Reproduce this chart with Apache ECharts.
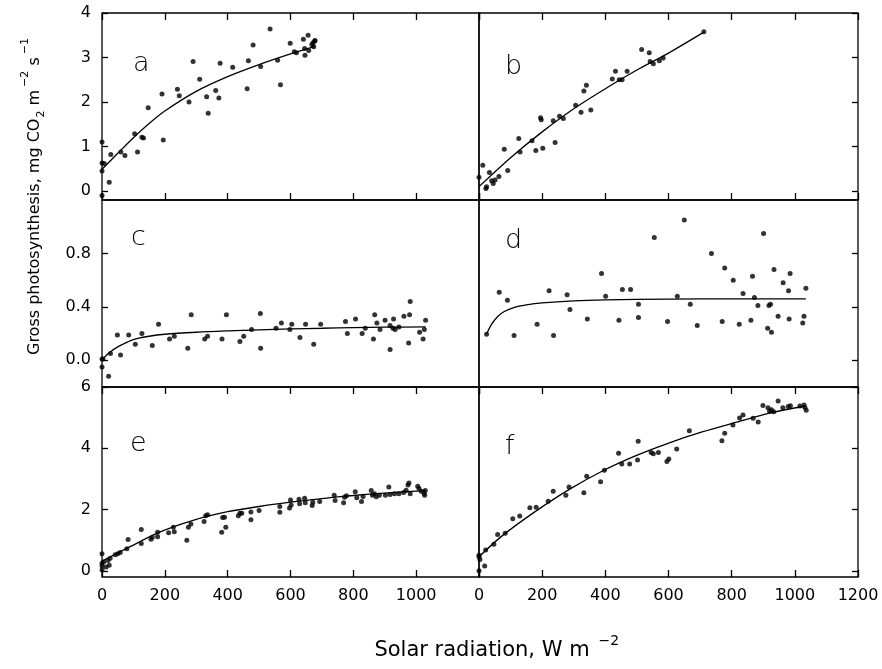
<!DOCTYPE html>
<html><head><meta charset="utf-8">
<script src="https://cdn.jsdelivr.net/npm/echarts@6/dist/echarts.min.js"></script>
<style>html,body{margin:0;padding:0;background:#fff}#c{width:882px;height:669px}</style>
</head><body><div id="c"></div>
<script>
// ---- data ----
const panelLetters = ['a','b','c','d','e','f'];
const xTickValues = [0,200,400,600,800,1000,1200];
const xLabelsLeft = [0,200,400,600,800,1000];
const xLabelsRight = [0,200,400,600,800,1000,1200];
const yTicksAB = [0,1,2,3,4];
const yTicksCD = [0,0.4,0.8];
const yTicksEF = [0,2,4,6];
const yRangeAB = [-0.2,4];
const yRangeCD = [-0.2,1.2];
const yRangeEF = [-0.2,6];

const ptsA = [[0,-0.1],[0,0.45],[0,0.63],[7,0.62],[0,1.1],[23,0.2],[28,0.82],[60,0.88],[73,0.8],[104,1.29],[113,0.88],[127,1.21],[132,1.19],[147,1.87],[191,2.18],[195,1.15],[240,2.29],[246,2.14],[277,2.0],[290,2.91],[311,2.51],[333,2.12],[338,1.75],[362,2.26],[372,2.09],[376,2.87],[416,2.78],[462,2.3],[466,2.93],[481,3.28],[505,2.8],[535,3.64],[559,2.94],[568,2.39],[599,3.32],[612,3.13],[619,3.11],[641,3.41],[645,3.2],[646,3.05],[656,3.5],[658,3.16],[668,3.29],[672,3.33],[674,3.24],[677,3.37],[678,3.38]];
const fitA = [[0,0.49],[50,0.85],[100,1.2],[150,1.52],[200,1.8],[300,2.24],[400,2.57],[500,2.84],[600,3.08],[678,3.25]];

const ptsB = [[0,0.31],[12,0.58],[22,0.06],[24,0.1],[33,0.42],[40,0.23],[45,0.17],[51,0.25],[63,0.33],[80,0.94],[91,0.46],[126,1.18],[130,0.88],[168,1.13],[180,0.91],[195,1.65],[197,1.6],[202,0.96],[235,1.58],[241,1.09],[255,1.68],[267,1.63],[306,1.93],[323,1.77],[332,2.25],[340,2.38],[354,1.82],[422,2.52],[432,2.69],[444,2.5],[453,2.5],[469,2.69],[515,3.18],[539,3.11],[542,2.91],[552,2.86],[571,2.93],[583,2.99],[712,3.58]];
const fitB = [[0,0.1],[100,0.75],[200,1.33],[300,1.85],[400,2.3],[500,2.72],[600,3.1],[712,3.57]];

const ptsC = [[0,0.01],[3,0.01],[0,-0.05],[21,-0.12],[27,0.05],[49,0.19],[59,0.04],[85,0.19],[106,0.12],[127,0.2],[160,0.11],[180,0.27],[215,0.16],[230,0.18],[273,0.09],[284,0.34],[327,0.16],[336,0.18],[382,0.16],[396,0.34],[439,0.14],[451,0.18],[476,0.23],[504,0.35],[505,0.09],[554,0.24],[571,0.28],[598,0.23],[604,0.27],[630,0.17],[648,0.27],[674,0.12],[696,0.27],[775,0.29],[781,0.2],[807,0.31],[828,0.2],[838,0.24],[864,0.16],[868,0.34],[875,0.28],[885,0.23],[901,0.3],[917,0.08],[917,0.26],[926,0.24],[928,0.31],[933,0.23],[945,0.25],[961,0.33],[976,0.13],[979,0.34],[981,0.44],[1011,0.21],[1022,0.16],[1026,0.23],[1030,0.3]];
const fitC = [[0,0.0],[20,0.05],[50,0.1],[100,0.155],[150,0.18],[200,0.195],[300,0.21],[400,0.22],[500,0.228],[600,0.235],[700,0.24],[800,0.245],[900,0.248],[1030,0.25]];

const ptsD = [[24,0.195],[64,0.51],[90,0.45],[111,0.185],[184,0.27],[222,0.52],[236,0.185],[279,0.49],[288,0.38],[343,0.31],[388,0.65],[401,0.48],[443,0.3],[454,0.53],[480,0.53],[505,0.42],[505,0.32],[555,0.92],[597,0.29],[628,0.48],[650,1.05],[669,0.42],[691,0.26],[736,0.8],[770,0.29],[778,0.69],[805,0.6],[824,0.27],[836,0.5],[861,0.3],[866,0.63],[872,0.47],[883,0.41],[901,0.95],[914,0.24],[918,0.41],[923,0.42],[926,0.21],[934,0.68],[947,0.33],[963,0.58],[980,0.52],[982,0.31],[985,0.65],[1025,0.28],[1029,0.33],[1035,0.54]];
const fitD = [[24,0.195],[40,0.27],[60,0.33],[80,0.365],[110,0.395],[150,0.415],[200,0.43],[300,0.445],[400,0.452],[600,0.458],[800,0.46],[1035,0.46]];

const ptsE = [[0,0.03],[0,0.25],[0,0.56],[0,0.16],[5,0.29],[13,0.13],[23,0.18],[19,0.34],[26,0.41],[42,0.53],[50,0.56],[58,0.6],[79,0.72],[83,1.02],[125,0.89],[125,1.35],[156,1.03],[160,1.1],[177,1.26],[177,1.11],[212,1.24],[227,1.42],[230,1.28],[270,1.0],[275,1.42],[283,1.53],[325,1.61],[330,1.8],[336,1.83],[381,1.26],[384,1.74],[394,1.42],[390,1.75],[434,1.8],[439,1.88],[445,1.88],[474,1.67],[474,1.92],[500,1.97],[566,1.91],[566,2.1],[597,2.05],[600,2.31],[602,2.15],[627,2.34],[629,2.19],[645,2.37],[647,2.22],[669,2.13],[671,2.24],[693,2.26],[739,2.47],[742,2.3],[769,2.22],[772,2.4],[778,2.45],[806,2.58],[811,2.39],[826,2.26],[831,2.43],[857,2.62],[861,2.47],[867,2.52],[873,2.42],[883,2.47],[902,2.47],[913,2.74],[917,2.49],[931,2.52],[945,2.52],[960,2.56],[968,2.63],[974,2.8],[977,2.87],[981,2.52],[1005,2.76],[1009,2.69],[1016,2.6],[1025,2.53],[1027,2.47],[1029,2.62]];
const fitE = [[0,0.32],[80,0.74],[185,1.27],[290,1.65],[400,1.93],[500,2.1],[600,2.24],[700,2.36],[800,2.46],[900,2.54],[1030,2.62]];

const ptsF = [[0,0.0],[0,0.46],[0,0.51],[3,0.37],[18,0.16],[21,0.68],[47,0.87],[59,1.19],[83,1.23],[107,1.7],[129,1.79],[161,2.06],[181,2.08],[219,2.27],[235,2.6],[275,2.47],[285,2.74],[332,2.55],[341,3.09],[385,2.91],[397,3.28],[442,3.84],[452,3.49],[477,3.49],[502,3.62],[504,4.23],[545,3.86],[552,3.82],[568,3.86],[595,3.57],[601,3.65],[626,3.98],[666,4.57],[769,4.25],[778,4.49],[804,4.76],[825,4.99],[836,5.09],[868,4.98],[884,4.86],[899,5.4],[915,5.32],[920,5.21],[926,5.26],[933,5.19],[947,5.54],[962,5.32],[979,5.36],[986,5.39],[1016,5.38],[1029,5.41],[1032,5.33],[1036,5.24]];
const fitF = [[0,0.46],[74,1.15],[180,1.95],[286,2.66],[391,3.26],[497,3.76],[603,4.18],[709,4.54],[815,4.85],[920,5.15],[1034,5.38]];

// ---- layout ----
const FONT = 'DejaVu Sans';
const pts = [ptsA, ptsB, ptsC, ptsD, ptsE, ptsF];
const fits = [fitA, fitB, fitC, fitD, fitE, fitF];
const yTicks = [yTicksAB, yTicksCD, yTicksEF];
const yRanges = [yRangeAB, yRangeCD, yRangeEF];
const rowTop = [13, 200, 387];
const rowH = [187, 187, 190];
const colLeft = [102, 479];
const colW = [377, 379];

const grids = [], xAxes = [], yAxes = [], series = [];
const tickStyle = {color: '#000', width: 1.3};
const labelStyle = {color: '#000', fontSize: 16, fontFamily: FONT};
for (let i = 0; i < 6; i++) {
  const row = Math.floor(i / 2), col = i % 2;
  grids.push({left: colLeft[col], top: rowTop[row], width: colW[col], height: rowH[row],
    show: true, borderColor: '#000', borderWidth: 1.3, backgroundColor: 'transparent'});
  xAxes.push({gridIndex: i, type: 'value', min: 0, max: 1200, position: 'bottom',
    axisLine: {show: false, onZero: false}, splitLine: {show: false},
    axisTick: {show: row !== 1, inside: true, length: 7, customValues: xTickValues, lineStyle: tickStyle},
    axisLabel: Object.assign({show: row === 2, margin: 11, formatter: v => String(v),
      customValues: col === 0 ? xLabelsLeft : xLabelsRight}, labelStyle)});
  const fmt = row === 1 ? (v => Number(v).toFixed(1)) : (v => String(Math.round(v)));
  yAxes.push({gridIndex: i, type: 'value', min: yRanges[row][0], max: yRanges[row][1],
    position: col === 0 ? 'left' : 'right',
    axisLine: {show: false, onZero: false}, splitLine: {show: false},
    axisTick: {show: true, inside: true, length: 6, customValues: yTicks[row], lineStyle: tickStyle},
    axisLabel: Object.assign({show: col === 0, margin: 11, customValues: yTicks[row], formatter: fmt,
      showMinLabel: true, showMaxLabel: true}, labelStyle)});
  series.push({type: 'scatter', xAxisIndex: i, yAxisIndex: i, data: pts[i], symbolSize: 5,
    itemStyle: {color: '#000'}, clip: false, silent: true});
  series.push({type: 'line', xAxisIndex: i, yAxisIndex: i, data: fits[i], showSymbol: false,
    smooth: 0.3, lineStyle: {color: '#000', width: 1.3}, silent: true});
}
// top inward ticks for rows a/b and e/f
[0, 1, 4, 5].forEach(i => {
  xAxes.push({gridIndex: i, type: 'value', min: 0, max: 1200, position: 'top',
    axisLine: {show: false, onZero: false}, splitLine: {show: false},
    axisTick: {show: true, inside: true, length: 7, customValues: xTickValues, lineStyle: tickStyle},
    axisLabel: {show: false}});
});

// ---- text helpers ----
const ctx = document.createElement('canvas').getContext('2d');
function tw(text, size) { ctx.font = size + 'px "' + FONT + '"'; return ctx.measureText(text).width; }
function txt(text, x, y, size, extra) {
  return Object.assign({type: 'text', x: x, y: y, silent: true,
    style: {text: text, fontSize: size, fontFamily: FONT, fill: '#000', align: 'left', verticalAlign: 'middle'}}, extra || {});
}

const graphics = [];
// panel letters
const letterPos = [[133, 64], [505, 67], [131, 238], [505, 241], [130, 444], [505, 447]];
panelLetters.forEach((l, i) => {
  const t = txt(l, letterPos[i][0], letterPos[i][1], 27);
  t.style.fontWeight = 200;
  graphics.push(t);
});

// x axis title
const xMain = 'Solar radiation, W m';
const xs = 21;
const xMainW = tw(xMain, xs);
const xLeft = 478 - xMainW / 2 + 4;
graphics.push(txt(xMain, xLeft, 651, xs));
graphics.push(txt('\u22122', xLeft + xMainW + 9, 641, 14));

// y axis title (rotated group)
const ys = 16, ss = 11;
const yParts = [];
let off = 0;
function addPart(text, size, dy, gapBefore) {
  off += gapBefore || 0;
  yParts.push(txt(text, off, dy, size));
  off += tw(text, size);
}
addPart('Gross photosynthesis, mg CO', ys, 0);
addPart('2', ss, 6, 1);
addPart(' m', ys, 0);
addPart('\u22122', ss, -10, 3);
addPart(' s', ys, 0);
addPart('\u22121', ss, -10, 3);
graphics.push({type: 'group', x: 35, y: 355, rotation: Math.PI / 2, children: yParts});

const chart = echarts.init(document.getElementById('c'), null, {renderer: 'canvas'});
chart.setOption({
  animation: false,
  backgroundColor: '#fff',
  grid: grids, xAxis: xAxes, yAxis: yAxes, series: series,
  graphic: graphics
});
</script>
</body></html>
